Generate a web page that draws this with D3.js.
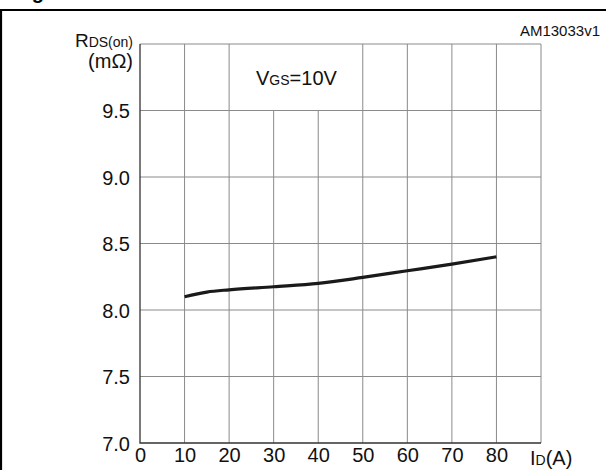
<!DOCTYPE html>
<html>
<head>
<meta charset="utf-8">
<script src="https://cdn.jsdelivr.net/npm/d3@7"></script>
<style>
  body { margin: 0; background: #fff; }
  svg { display: block; font-family: "Liberation Sans", Arial, Helvetica, sans-serif; }
</style>
</head>
<body>
<div id="chart"></div>
<script>
(function() {

    var current = [10, 15, 20, 30, 40, 50, 60, 70, 80];
    var rdson = [8.10, 8.135, 8.152, 8.175, 8.20, 8.245, 8.295, 8.345, 8.40];

    var xTicks = [0, 10, 20, 30, 40, 50, 60, 70, 80];
    var xGrid = [10, 20, 30, 40, 50, 60, 70, 80];
    var yTicks = [7.0, 7.5, 8.0, 8.5, 9.0, 9.5];
    var yGrid = [7.5, 8.0, 8.5, 9.0, 9.5];

    var W = 606, H = 470;
    var left = 140, right = 541, top = 44, bottom = 443;

    var svg = d3.select('#chart').append('svg')
        .attr('width', W)
        .attr('height', H);

    // page frame
    svg.append('path')
        .attr('d', 'M1,470 L1,10 L606,10')
        .attr('fill', 'none')
        .attr('stroke', '#000')
        .attr('stroke-width', 2.2);

    // cut-off figure heading, only the "g" descender shows
    svg.append('text')
        .attr('x', 14)
        .attr('y', -1)
        .attr('font-size', 20)
        .attr('font-weight', 'bold')
        .text('Figure 7. Static drain-source on-resistance');

    var x = d3.scaleLinear().domain([0, 90]).range([left, right]);
    var y = d3.scaleLinear().domain([7, 10]).range([bottom, top]);

    // grid
    var grid = svg.append('g')
        .attr('stroke', '#8a8a8a')
        .attr('stroke-width', 1);

    grid.selectAll('line.v').data(xGrid)
        .enter().append('line')
        .attr('class', 'v')
        .attr('x1', function(d) { return x(d); })
        .attr('x2', function(d) { return x(d); })
        .attr('y1', function(d) { return (d === 30 || d === 40) ? y(9.5) : y(10); })
        .attr('y2', y(7));

    grid.selectAll('line.h').data(yGrid)
        .enter().append('line')
        .attr('class', 'h')
        .attr('x1', x(0))
        .attr('x2', x(90))
        .attr('y1', function(d) { return y(d); })
        .attr('y2', function(d) { return y(d); });

    // top + right edges of the plot box
    grid.append('path')
        .attr('fill', 'none')
        .attr('d', 'M' + x(0) + ',' + y(10) + 'H' + x(90) + 'V' + y(7));

    // left + bottom edges, darker
    svg.append('path')
        .attr('fill', 'none')
        .attr('stroke', '#333')
        .attr('stroke-width', 1.3)
        .attr('d', 'M' + x(0) + ',' + y(10) + 'V' + y(7) + 'H' + x(90));

    // axes labels through d3 axes
    var xAxis = svg.append('g')
        .attr('transform', 'translate(0,' + bottom + ')')
        .call(d3.axisBottom(x).tickValues(xTicks).tickSize(0).tickPadding(5).tickFormat(d3.format('d')));
    xAxis.select('.domain').remove();
    xAxis.selectAll('text')
        .attr('font-size', 20)
        .attr('fill', '#111')
        .attr('dy', '0.71em');

    var yAxis = svg.append('g')
        .attr('transform', 'translate(' + left + ',0)')
        .call(d3.axisLeft(y).tickValues(yTicks).tickSize(0).tickPadding(10).tickFormat(d3.format('.1f')));
    yAxis.select('.domain').remove();
    yAxis.selectAll('text')
        .attr('font-size', 20)
        .attr('fill', '#111')
        .attr('dy', '0.36em');

    // unit labels
    var t1 = svg.append('text')
        .attr('x', 133)
        .attr('y', 47)
        .attr('text-anchor', 'end')
        .attr('fill', '#111');
    t1.append('tspan').attr('font-size', 19).text('R');
    t1.append('tspan').attr('font-size', 14).text('DS(on)');

    svg.append('text')
        .attr('x', 133)
        .attr('y', 68)
        .attr('text-anchor', 'end')
        .attr('font-size', 20)
        .attr('fill', '#111')
        .text('(m\u03A9)');

    var t2 = svg.append('text')
        .attr('x', 530)
        .attr('y', 465)
        .attr('fill', '#111');
    t2.append('tspan').attr('font-size', 20).text('I');
    t2.append('tspan').attr('font-size', 14).text('D');
    t2.append('tspan').attr('font-size', 20).text('(A)');

    var t3 = svg.append('text')
        .attr('x', 256)
        .attr('y', 85)
        .attr('fill', '#111');
    t3.append('tspan').attr('font-size', 20).text('V');
    t3.append('tspan').attr('font-size', 14).text('GS');
    t3.append('tspan').attr('font-size', 20).text('=10V');

    svg.append('text')
        .attr('x', 600)
        .attr('y', 36)
        .attr('text-anchor', 'end')
        .attr('font-size', 15)
        .attr('fill', '#111')
        .text('AM13033v1');

    // the curve
    var data = current.map(function(d, i) { return { id: d, r: rdson[i] }; });
    var line = d3.line()
        .x(function(d) { return x(d.id); })
        .y(function(d) { return y(d.r); })
        .curve(d3.curveMonotoneX);

    svg.append('path')
        .datum(data)
        .attr('fill', 'none')
        .attr('stroke', '#1a1a1a')
        .attr('stroke-width', 3.2)
        .attr('stroke-linecap', 'butt')
        .attr('d', line);

})();
</script>
</body>
</html>
